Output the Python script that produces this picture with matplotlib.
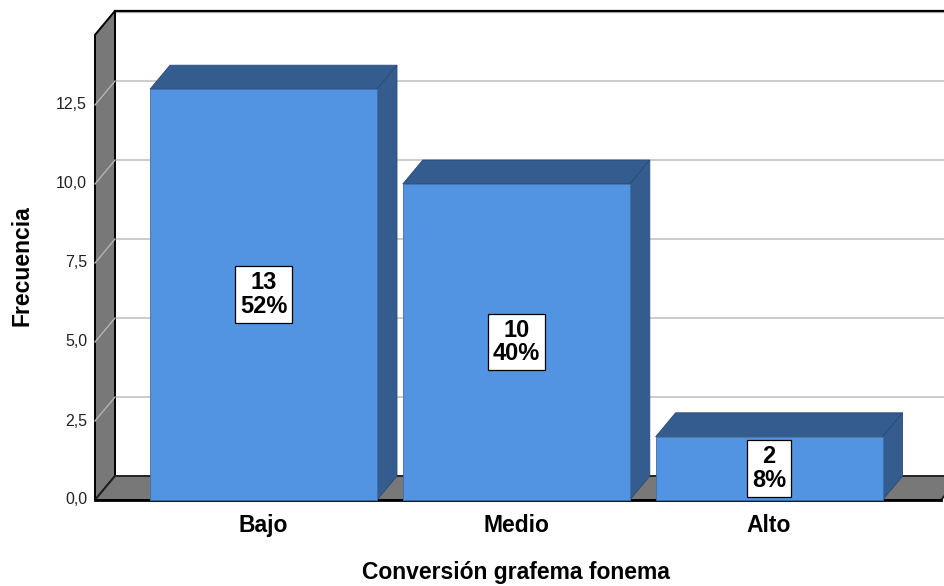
import matplotlib
matplotlib.use("Agg")
import matplotlib.pyplot as plt
from matplotlib.patches import Polygon, Rectangle

# ---- data ----
categories = ["Bajo", "Medio", "Alto"]
counts = [13, 10, 2]
percents = [52, 40, 8]
yticks = [0.0, 2.5, 5.0, 7.5, 10.0, 12.5]
ytick_labels = ["0,0", "2,5", "5,0", "7,5", "10,0", "12,5"]
x_title = "Conversión grafema fonema"
y_title = "Frecuencia"

plt.rcParams['font.family'] = ['Liberation Sans', 'DejaVu Sans']

W, H = 945, 586
fig = plt.figure(figsize=(W / 100, H / 100), dpi=100)
ax = fig.add_axes([0, 0, 1, 1])

# layout: category centre spacing and value scale (in pixels)
cx0, cstep = 263.5, 252.8
vy0, vstep = 86.0, 31.6
xmin, xmax = -cx0 / cstep, (W - cx0) / cstep
ymin, ymax = -vy0 / vstep, (H - vy0) / vstep
ax.set_xlim(xmin, xmax)
ax.set_ylim(ymin, ymax)
ax.axis('off')

DX = 20 / cstep          # depth offset
DY = 24 / vstep
XL = (95 - cx0) / cstep  # left wall front
XR = (941 - cx0) / cstep # floor front right end
YT = 14.72               # top of walls
HW = 113.5 / cstep       # bar half width

wall_gray = '#787878'
bar_front = '#5394E2'
bar_dark = '#345C8E'
grid_c = '#c8c8c8'

# back-wall gridlines
for v in yticks[1:]:
    ax.plot([XL + DX, xmax + 0.1], [v + DY, v + DY], color=grid_c, lw=1.3, zorder=1)

# back wall top edge
ax.plot([XL + DX, xmax + 0.1], [YT + DY, YT + DY], color='black', lw=1.6, zorder=2)
ax.plot([XL + DX, xmax + 0.1], [YT + DY - 0.05, YT + DY - 0.05], color='#bbbbbb', lw=1.0, zorder=1)

# left wall
ax.add_patch(Polygon([(XL, 0), (XL, YT), (XL + DX, YT + DY), (XL + DX, DY)],
                     closed=True, fc=wall_gray, ec='black', lw=1.4, zorder=3))
for v in yticks[1:]:
    ax.plot([XL, XL + DX], [v, v + DY], color='#b4b4b4', lw=1.0, zorder=4)

# floor
ax.add_patch(Polygon([(XL, 0), (XR, 0), (XR + DX, DY), (XL + DX, DY)],
                     closed=True, fc=wall_gray, ec='#222222', lw=1.4, zorder=3))
ax.plot([XL, XR], [0, 0], color='black', lw=2.0, zorder=4)

# bars
for i, (cat, c, p) in enumerate(zip(categories, counts, percents)):
    x0, x1 = i - HW, i + HW
    ax.add_patch(Polygon([(x0, c), (x1, c), (x1 + DX, c + DY), (x0 + DX, c + DY)],
                         closed=True, fc=bar_dark, ec='#2a4a74', lw=0.6, zorder=5))
    ax.add_patch(Polygon([(x1, 0), (x1, c), (x1 + DX, c + DY), (x1 + DX, DY)],
                         closed=True, fc=bar_dark, ec='#2a4a74', lw=0.6, zorder=5))
    ax.add_patch(Rectangle((x0, 0), x1 - x0, c, fc=bar_front, ec='#3d6ea8', lw=0.6, zorder=6))
    ax.text(i, c / 2, f"{c}\n{p}%", ha='center', va='center', fontsize=17,
            fontweight='bold', linespacing=1.05, zorder=8,
            bbox=dict(boxstyle='square,pad=0.2', fc='white', ec='black', lw=0.9))
    ax.text(i, -25.5 / vstep, cat, ha='center', va='center', fontsize=16.5,
            fontweight='bold', zorder=8)

# y tick labels
for v, lab in zip(yticks, ytick_labels):
    ax.text(XL - 8 / cstep, v, lab, ha='right', va='center', fontsize=11.5,
            color='#222222', zorder=8)

# axis titles
ax.text((516 - cx0) / cstep, -72 / vstep, x_title, ha='center', va='center',
        fontsize=16.5, fontweight='bold')
ax.text((22 - cx0) / cstep, (500 - 266) / vstep, y_title, ha='center', va='center',
        rotation=90, fontsize=16.5, fontweight='bold')

fig.savefig('out.png', dpi=100)
